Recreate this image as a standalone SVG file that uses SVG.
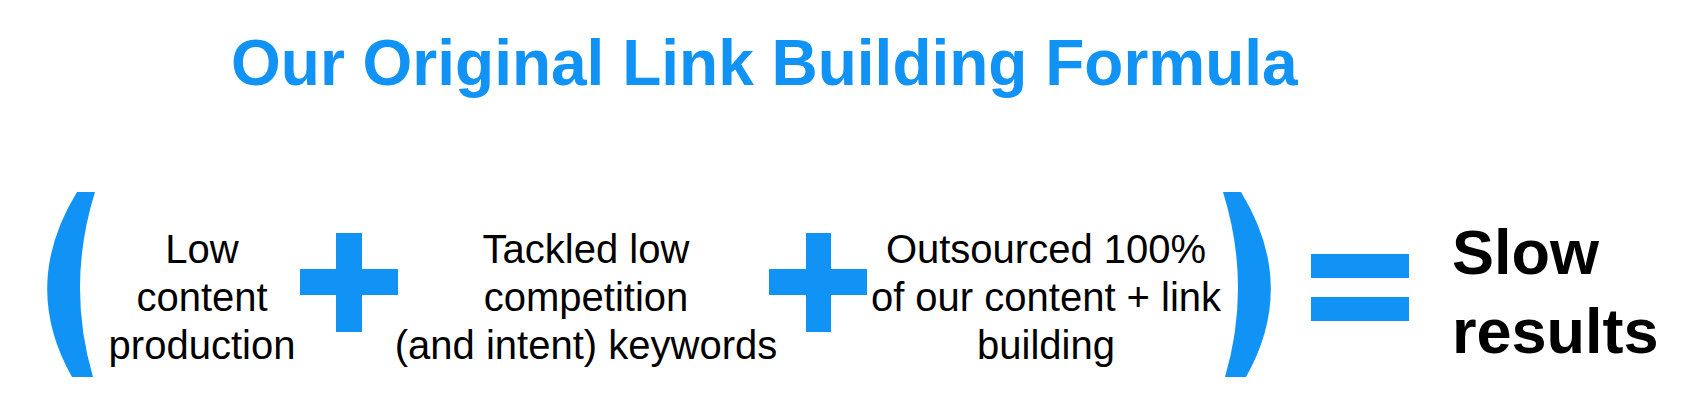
<svg xmlns="http://www.w3.org/2000/svg" width="1702" height="420" viewBox="0 0 1702 420">
  <style>
    .title { font-family: "Liberation Sans", Arial, sans-serif; font-weight: bold; font-size: 64px; fill: #1193F5; }
    .term { font-family: "Liberation Sans", Arial, sans-serif; font-size: 40px; fill: #000; text-anchor: middle; }
    .result { font-family: "Liberation Sans", Arial, sans-serif; font-weight: bold; font-size: 63px; fill: #000; }
    .op { fill: #1193F5; }
  </style>
  <rect width="1702" height="420" fill="#fff"/>
  <g id="title"><text class="title" x="231" y="85">Our Original Link Building Formula</text></g>

  <g id="paren-left"><path class="op" d="M95 192 L77 192 Q20 285 72 377 L93 377 Q66 285 95 192 Z"/></g>

  <g id="term-1">
    <text class="term" x="202" y="263">Low</text>
    <text class="term" x="202" y="311">content</text>
    <text class="term" x="202" y="359">production</text>
  </g>

  <g id="plus-1">
    <rect class="op" x="300" y="269" width="98" height="26"/>
    <rect class="op" x="336" y="233" width="26" height="99"/>
  </g>

  <g id="term-2">
    <text class="term" x="586" y="263">Tackled low</text>
    <text class="term" x="586" y="311">competition</text>
    <text class="term" x="586" y="359">(and intent) keywords</text>
  </g>

  <g id="plus-2">
    <rect class="op" x="769" y="269" width="98" height="26"/>
    <rect class="op" x="806" y="233" width="25" height="99"/>
  </g>

  <g id="term-3">
    <text class="term" x="1046" y="263">Outsourced 100%</text>
    <text class="term" x="1046" y="311">of our content + link</text>
    <text class="term" x="1046" y="359">building</text>
  </g>

  <g id="paren-right"><path class="op" d="M1223 192 L1241 192 Q1298 285 1246 377 L1225 377 Q1252 285 1223 192 Z"/></g>

  <g id="equals">
    <rect class="op" x="1311" y="254" width="98" height="24"/>
    <rect class="op" x="1311" y="297" width="98" height="24"/>
  </g>

  <g id="result">
    <text class="result" x="1452" y="274">Slow</text>
    <text class="result" x="1452" y="353">results</text>
  </g>
</svg>
